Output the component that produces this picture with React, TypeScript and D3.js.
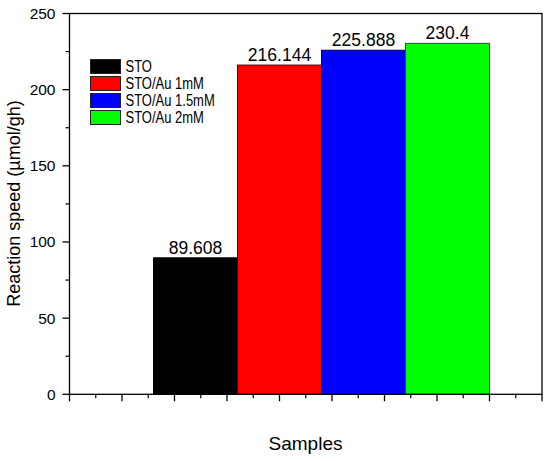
import React from "react";
import * as d3 from "d3";

const categories = ["STO", "STO/Au 1mM", "STO/Au 1.5mM", "STO/Au 2mM"];
const values = [89.608, 216.144, 225.888, 230.4];
const colors = ["#000000", "#ff0000", "#0000ff", "#00ff00"];
const strokes = ["#000000", "#5a0000", "#00005a", "#1f5a1f"];
const labels = ["89.608", "216.144", "225.888", "230.4"];
const yTicks = [0, 50, 100, 150, 200, 250];
const yMinor = [25, 75, 125, 175, 225];
const xMajor = [0, 1, 2, 3, 4, 5, 6, 7, 8, 9];
const xMinor = [0.5, 1.5, 2.5, 3.5, 4.5, 5.5, 6.5, 7.5, 8.5];

const W = 550, H = 461;
const L = 69.5, R = 542, T = 13.5, B = 394.3;
const FONT = "'Liberation Sans', Arial, sans-serif";

export default function App() {
  const x = d3.scaleLinear().domain([0, 9]).range([L, R]);
  const y = d3.scaleLinear().domain([0, 250]).range([B, T]);
  const barStart = 1.6, barW = 1.6;

  return (
    <svg width={W} height={H} style={{ position: "absolute", left: 0, top: 0, background: "#fff" }} fontFamily={FONT}>
      <rect x={0} y={0} width={W} height={H} fill="#fff" />
      {values.map((v, i) => {
        const x0 = x(barStart + i * barW), x1 = x(barStart + (i + 1) * barW);
        return (
          <g key={i}>
            <rect x={x0} y={y(v)} width={x1 - x0} height={y(0) - y(v)} fill={colors[i]} stroke={strokes[i]} strokeWidth={1} />
            <text x={(x0 + x1) / 2} y={y(v) - 4.3} textAnchor="middle" fontSize={17.5} fill="#000">{labels[i]}</text>
          </g>
        );
      })}
      {/* frame */}
      <rect x={L} y={T} width={R - L} height={B - T} fill="none" stroke="#000" strokeWidth={1.3} />
      {/* y ticks */}
      {yTicks.map(t => (
        <g key={"y" + t}>
          <line x1={L - 7} x2={L} y1={y(t)} y2={y(t)} stroke="#000" strokeWidth={1.3} />
          <text x={L - 14} y={y(t)} dy="0.35em" textAnchor="end" fontSize={15.5}>{t}</text>
        </g>
      ))}
      {yMinor.map(t => (
        <line key={"ym" + t} x1={L - 4} x2={L} y1={y(t)} y2={y(t)} stroke="#000" strokeWidth={1.2} />
      ))}
      {xMajor.map(t => (
        <line key={"x" + t} x1={x(t)} x2={x(t)} y1={B} y2={B + 7} stroke="#000" strokeWidth={1.3} />
      ))}
      {xMinor.map(t => (
        <line key={"xm" + t} x1={x(t)} x2={x(t)} y1={B} y2={B + 4} stroke="#000" strokeWidth={1.2} />
      ))}
      {/* legend */}
      {categories.map((c, i) => (
        <g key={"l" + i}>
          <rect x={90.5} y={59.5 + i * 17} width={30} height={14} fill={colors[i]} stroke="#222" strokeWidth={1} />
          <text transform={`translate(125.5,${71.5 + i * 17}) scale(1,1.2)`} fontSize={13}>{c}</text>
        </g>
      ))}
      {/* axis titles */}
      <text x={305.5} y={449.5} textAnchor="middle" fontSize={19}>Samples</text>
      <text transform={`translate(20,${203.5}) rotate(-90)`} textAnchor="middle" fontSize={18}>Reaction speed (µmol/gh)</text>
    </svg>
  );
}
